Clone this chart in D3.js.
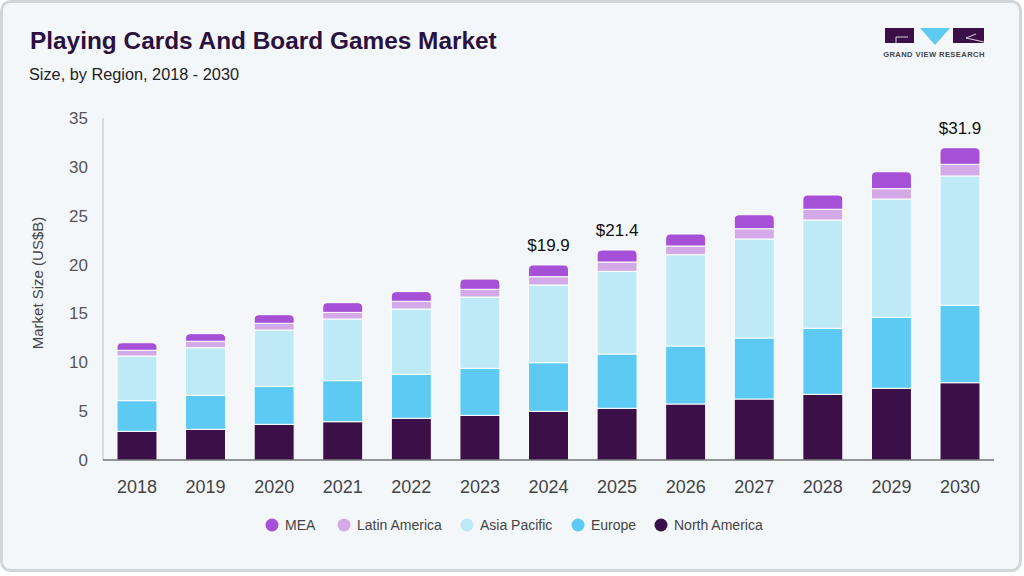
<!DOCTYPE html>
<html>
<head>
<meta charset="utf-8">
<script src="https://cdn.jsdelivr.net/npm/d3@7"></script>
<style>
  html, body { margin: 0; padding: 0; background: #ffffff; }
  svg { display: block; font-family: "Liberation Sans", Arial, sans-serif; }
</style>
</head>
<body>
<svg id="chart" width="1024" height="576"></svg>
<script>
  "use strict";

  // chart data (US$B)
  var years = ["2018", "2019", "2020", "2021", "2022", "2023", "2024",
               "2025", "2026", "2027", "2028", "2029", "2030"];
  var northAmerica = [2.94, 3.14, 3.65, 3.92, 4.27, 4.57, 4.98, 5.29, 5.73, 6.24, 6.72, 7.34, 7.91];
  var europe       = [3.13, 3.48, 3.89, 4.20, 4.50, 4.81, 4.98, 5.56, 5.94, 6.25, 6.76, 7.26, 7.92];
  var asiaPacific  = [4.57, 4.87, 5.76, 6.31, 6.68, 7.30, 7.95, 8.46, 9.34, 10.13, 11.08, 12.11, 13.24];
  var latinAmerica = [0.59, 0.66, 0.69, 0.68, 0.79, 0.79, 0.85, 0.95, 0.89, 1.05, 1.10, 1.06, 1.19];
  var mea          = [0.77, 0.78, 0.88, 0.99, 0.99, 1.05, 1.20, 1.23, 1.23, 1.43, 1.46, 1.73, 1.70];
  var seriesNames  = ["North America", "Europe", "Asia Pacific", "Latin America", "MEA"];
  var legendOrder  = ["MEA", "Latin America", "Asia Pacific", "Europe", "North America"];
  var yTicks       = [0, 5, 10, 15, 20, 25, 30, 35];
  var labelledYears = { "2024": "$19.9", "2025": "$21.4", "2030": "$31.9" };

  var colors = {
    "North America": "#3b1049",
    "Europe": "#5ccaf2",
    "Asia Pacific": "#bee9f7",
    "Latin America": "#d4a9e7",
    "MEA": "#a64fd7"
  };

  var seriesValues = {
    "North America": northAmerica,
    "Europe": europe,
    "Asia Pacific": asiaPacific,
    "Latin America": latinAmerica,
    "MEA": mea
  };

  var rows = years.map(function(yr, i) {
    var row = { year: yr };
    seriesNames.forEach(function(name) { row[name] = seriesValues[name][i]; });
    return row;
  });

  var svg = d3.select("#chart");

  // card background
  svg.append("rect")
    .attr("x", 1.5).attr("y", 1.5)
    .attr("width", 1019).attr("height", 569)
    .attr("rx", 9)
    .attr("fill", "#f4f7fa")
    .attr("stroke", "#d3d6d8")
    .attr("stroke-width", 3);

  // titles
  svg.append("text")
    .attr("x", 30).attr("y", 49)
    .attr("font-size", 24.4).attr("font-weight", "bold")
    .attr("fill", "#2a1140")
    .text("Playing Cards And Board Games Market");

  svg.append("text")
    .attr("x", 29).attr("y", 80)
    .attr("font-size", 16.3).attr("fill", "#222")
    .text("Size, by Region, 2018 - 2030");

  // logo
  var logo = svg.append("g").attr("class", "logo");
  logo.append("rect").attr("x", 885).attr("y", 28).attr("width", 29).attr("height", 15).attr("fill", "#3b1049");
  logo.append("path").attr("d", "M896,43 V37 H908").attr("fill", "none").attr("stroke", "#fff").attr("stroke-width", 0.8);
  logo.append("path").attr("d", "M920,28 H950 L935,45 Z").attr("fill", "#5ccaf2");
  logo.append("rect").attr("x", 953).attr("y", 28).attr("width", 31).attr("height", 15).attr("fill", "#3b1049");
  logo.append("path").attr("d", "M976,34 L966,38 L984,42").attr("fill", "none").attr("stroke", "#fff").attr("stroke-width", 0.8);
  logo.append("text")
    .attr("x", 934).attr("y", 57)
    .attr("text-anchor", "middle")
    .attr("font-size", 7.6).attr("font-weight", "bold")
    .attr("letter-spacing", 0.4)
    .attr("fill", "#444")
    .text("GRAND VIEW RESEARCH");

  // scales
  var x = d3.scaleBand()
    .domain(years)
    .range([102.7, 994.3])
    .paddingInner(0.4167)
    .paddingOuter(0.2083);

  var y = d3.scaleLinear()
    .domain([0, 35])
    .range([460, 118]);

  // y axis
  svg.append("line")
    .attr("x1", 103).attr("x2", 103)
    .attr("y1", y(35)).attr("y2", y(0))
    .attr("stroke", "#cfd2d4").attr("stroke-width", 1.5);

  svg.append("g").selectAll("text")
    .data(yTicks)
    .enter()
    .append("text")
    .attr("x", 88)
    .attr("y", function(d) { return y(d); })
    .attr("dy", "0.35em")
    .attr("text-anchor", "end")
    .attr("font-size", 17)
    .attr("fill", "#555")
    .text(function(d) { return d; });

  svg.append("text")
    .attr("transform", "translate(43,283) rotate(-90)")
    .attr("text-anchor", "middle")
    .attr("font-size", 15)
    .attr("fill", "#444")
    .text("Market Size (US$B)");

  // stacked bars
  var stack = d3.stack().keys(seriesNames);
  var layers = stack(rows);

  var gLayers = svg.append("g").selectAll("g.layer")
    .data(layers)
    .enter()
    .append("g")
    .classed("layer", true)
    .attr("fill", function(l) { return colors[l.key]; });

  var topKey = seriesNames[seriesNames.length - 1];
  var r = 5;

  gLayers.selectAll("path")
    .data(function(l) { return l.map(function(d) { d.key = l.key; return d; }); })
    .enter()
    .append("path")
    .attr("stroke", "#ffffff")
    .attr("stroke-width", 1)
    .attr("d", function(d) {
      var x0 = x(d.data.year), w = x.bandwidth();
      var yTop = y(d[1]), yBot = y(d[0]);
      if (d.key === topKey) {
        return "M" + x0 + "," + yBot +
          "V" + (yTop + r) +
          "Q" + x0 + "," + yTop + " " + (x0 + r) + "," + yTop +
          "H" + (x0 + w - r) +
          "Q" + (x0 + w) + "," + yTop + " " + (x0 + w) + "," + (yTop + r) +
          "V" + yBot + "Z";
      }
      return "M" + x0 + "," + yBot + "V" + yTop + "H" + (x0 + w) + "V" + yBot + "Z";
    });

  // x axis
  svg.append("line")
    .attr("x1", 103).attr("x2", 994)
    .attr("y1", y(0)).attr("y2", y(0))
    .attr("stroke", "#333").attr("stroke-width", 1.2);

  svg.append("g").selectAll("text")
    .data(years)
    .enter()
    .append("text")
    .attr("x", function(d) { return x(d) + x.bandwidth() / 2; })
    .attr("y", 493)
    .attr("text-anchor", "middle")
    .attr("font-size", 18)
    .attr("fill", "#444")
    .text(function(d) { return d; });

  // total labels
  svg.append("g").selectAll("text")
    .data(rows.filter(function(row) { return labelledYears[row.year]; }))
    .enter()
    .append("text")
    .attr("x", function(row) { return x(row.year) + x.bandwidth() / 2; })
    .attr("y", function(row) {
      var total = d3.sum(seriesNames, function(n) { return row[n]; });
      return y(total) - 14;
    })
    .attr("text-anchor", "middle")
    .attr("font-size", 17)
    .attr("fill", "#111")
    .text(function(row) { return labelledYears[row.year]; });

  // legend
  var legendX = [272, 344, 467, 578, 661];
  var legend = svg.append("g").selectAll("g.legend")
    .data(legendOrder)
    .enter()
    .append("g")
    .classed("legend", true)
    .attr("transform", function(d, i) { return "translate(" + legendX[i] + ",525)"; });

  legend.append("circle")
    .attr("r", 6.5)
    .attr("fill", function(d) { return colors[d]; });

  legend.append("text")
    .attr("x", 13)
    .attr("dy", "0.35em")
    .attr("font-size", 14)
    .attr("fill", "#444")
    .text(function(d) { return d; });
</script>
</body>
</html>
